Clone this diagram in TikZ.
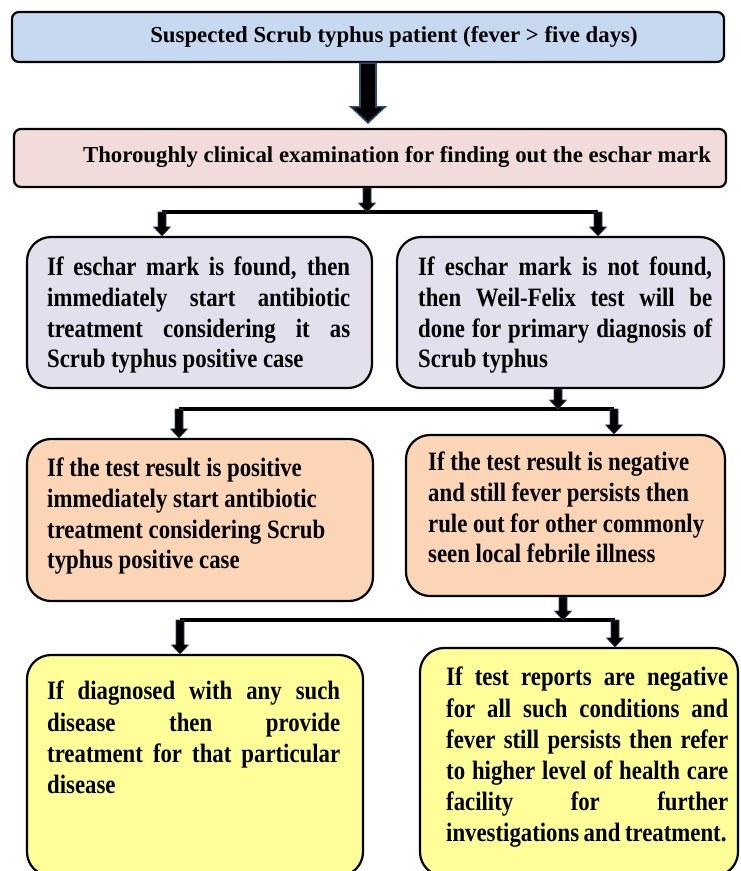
\documentclass[tikz,border=0pt]{standalone}
\usepackage{fontspec}
\setmainfont[FakeStretch=0.86]{Liberation Serif}
\newfontfamily\ttlfont[FakeStretch=1.0]{Liberation Serif}
\newfontfamily\yelfont[FakeStretch=0.86,WordSpace=0.8]{Liberation Serif}
\usetikzlibrary{calc}
\definecolor{topblue}{HTML}{C6D9F1}
\definecolor{pinkbox}{HTML}{F2DCDB}
\definecolor{lavbox}{HTML}{E4DFEC}
\definecolor{orbox}{HTML}{FBD5B5}
\definecolor{yelbox}{HTML}{FFFF99}
\definecolor{arrowedge}{HTML}{2F4B6E}
\newcommand\blockarrow[6]{%
  \path[#6] let \p1=(#1), \p2=(#2) in
    (\x1-#3,\y1) -- (\x1+#3,\y1) -- (\x1+#3,\y2+#5) -- (\x1+#4,\y2+#5)
    -- (\x1,\y2) -- (\x1-#4,\y2+#5) -- (\x1-#3,\y2+#5) -- cycle;}
\begin{document}
\begin{tikzpicture}[x=1pt,y=-1pt,
  box/.style={draw=black, line width=2.2pt, inner sep=0pt},
  flatbox/.style={box, rounded corners=7pt},
  roundbox/.style={box, rounded corners=24pt},
  jtxt/.style={inner sep=0pt, text width=#1, align=justify,
    font=\bfseries\fontsize{26.5}{30.7}\selectfont},
  ltxt/.style={inner sep=0pt, text width=#1, align=flush left,
    font=\bfseries\fontsize{26.5}{30.7}\selectfont},
  ytxt/.style={jtxt=#1, font=\yelfont\bfseries\fontsize{26.5}{31.2}\selectfont},
  ttl/.style={inner sep=0pt, font=\ttlfont\bfseries\fontsize{22.8}{26}\selectfont},
  bigarrow/.style={fill=black, draw=arrowedge, line width=1.6pt, line join=miter},
  smallarrow/.style={fill=black, draw=arrowedge, line width=0.6pt},
  barline/.style={draw=black, line width=4pt}]
\useasboundingbox (0,0) rectangle (741,871);
\fill[white] (0,0) rectangle (741,871);

% boxes
\node[flatbox, fill=topblue, minimum width=712pt, minimum height=50pt] (top) at (368,37) {};
\node[flatbox, fill=pinkbox, minimum width=712pt, minimum height=58pt] (pink) at (370,158) {};
\node[roundbox, fill=lavbox, minimum width=345pt, minimum height=151pt] (lav1) at (199.5,312.5) {};
\node[roundbox, fill=lavbox, minimum width=327pt, minimum height=151pt] (lav2) at (560.5,312.5) {};
\node[roundbox, fill=orbox, minimum width=346pt, minimum height=162pt] (or1) at (200,520) {};
\node[roundbox, fill=orbox, minimum width=319pt, minimum height=161pt] (or2) at (565.5,515.5) {};
\node[roundbox, fill=yelbox, minimum width=336pt, minimum height=221pt] (yel1) at (195,765.5) {};
\node[roundbox, fill=yelbox, minimum width=318pt, minimum height=228pt] (yel2) at (579,762) {};

% texts
\node[ttl] (topt) at (394,37) {Suspected Scrub typhus patient (fever > five days)};
\node[ttl] (pinkt) at (397,157) {Thoroughly clinical examination for finding out the eschar mark};
\node[jtxt=303pt, anchor=north west] (lav1t) at (47,257) {If eschar mark is found, then\linebreak immediately start antibiotic\linebreak treatment considering it as\linebreak Scrub typhus positive case};
\node[jtxt=294pt, anchor=north west] (lav2t) at (418,257) {If eschar mark is not found,\linebreak then Weil-Felix test will be\linebreak done for primary diagnosis of\linebreak Scrub typhus};
\node[ltxt=310pt, anchor=north west] (or1t) at (47,458) {If the test result is positive\\ immediately start antibiotic\\ treatment considering Scrub\\ typhus positive case};
\node[ltxt=300pt, anchor=north west] (or2t) at (428,452) {If the test result is negative\\ and still fever persists then\\ rule out for other commonly\\ seen local febrile illness};
\node[ytxt=293pt, anchor=north west] (yel1t) at (47,681) {If diagnosed with any such\linebreak disease then provide\linebreak treatment for that particular\linebreak disease};
\node[ytxt=282pt, anchor=north west] (yel2t) at (446,667) {If test reports are negative\linebreak for all such conditions and\linebreak fever still persists then refer\linebreak to higher level of health care\linebreak facility for further\linebreak investigations and treatment.};

% big arrow
\blockarrow{top.south}{$(pink.north)+(0,-5)$}{8pt}{17pt}{16pt}{bigarrow}

% connector 1
\coordinate (b1m) at (367,212);
\coordinate (b1l) at (162,212);
\coordinate (b1r) at (598,212);
\draw[barline] (b1l) -- (b1r);
\blockarrow{pink.south -| b1m}{b1m}{4pt}{8.5pt}{9pt}{smallarrow}
\blockarrow{b1l}{b1l |- lav1.north}{4pt}{8.5pt}{9pt}{smallarrow}
\blockarrow{b1r}{b1r |- lav2.north}{4pt}{8.5pt}{9pt}{smallarrow}

% connector 2
\coordinate (b2m) at (558,409);
\coordinate (b2l) at (179,409);
\coordinate (b2r) at (614,409);
\draw[barline] (b2l) -- (b2r);
\blockarrow{lav2.south -| b2m}{b2m}{4pt}{8.5pt}{9pt}{smallarrow}
\blockarrow{b2l}{b2l |- or1.north}{4pt}{8.5pt}{9pt}{smallarrow}
\blockarrow{b2r}{b2r |- or2.north}{4pt}{8.5pt}{9pt}{smallarrow}

% connector 3
\coordinate (b3m) at (563,620);
\coordinate (b3l) at (180,620);
\coordinate (b3r) at (615,620);
\draw[barline] (b3l) -- (b3r);
\blockarrow{or2.south -| b3m}{b3m}{4pt}{8.5pt}{9pt}{smallarrow}
\blockarrow{b3l}{b3l |- yel1.north}{4pt}{8.5pt}{9pt}{smallarrow}
\blockarrow{b3r}{b3r |- yel2.north}{4pt}{8.5pt}{9pt}{smallarrow}
\end{tikzpicture}
\end{document}
